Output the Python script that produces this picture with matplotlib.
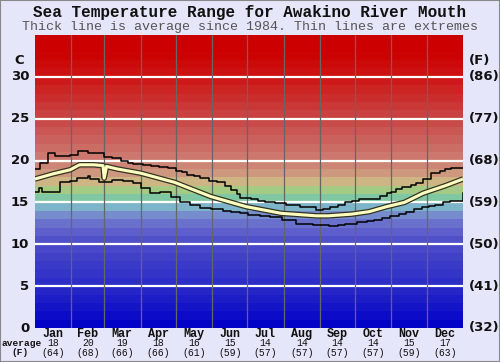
import numpy as np
import matplotlib.pyplot as plt
from matplotlib.colors import LinearSegmentedColormap

meses = ['Jan', 'Feb', 'Mar', 'Apr', 'May', 'Jun', 'Jul', 'Aug', 'Sep', 'Oct', 'Nov', 'Dec']
dias_mes = [31, 28, 31, 30, 31, 30, 31, 31, 30, 31, 30, 31]
media_c = [18, 20, 19, 18, 16, 15, 14, 14, 14, 14, 15, 17]
media_f = [64, 68, 66, 66, 61, 59, 57, 57, 57, 57, 59, 63]

# linha media (dia do ano, temperatura)
media_dia = [0, 15, 30, 38, 50, 58, 59, 61, 70, 90, 119, 150, 180, 210, 240, 250,
             270, 285, 300, 315, 331, 350, 365]
media_temp = [17.8, 18.4, 18.9, 19.5, 19.5, 19.4, 17.9, 19.3, 19.0, 18.5, 17.4, 15.7,
              14.5, 13.7, 13.4, 13.4, 13.6, 13.9, 14.5, 15.0, 16.1, 17.0, 17.8]

# maximas (degraus)
max_dia = [0, 4, 11, 17, 30, 37, 45, 51, 59, 66, 73, 79, 84, 92, 99, 106, 113,
           120, 125, 130, 136, 141, 148, 155, 162, 167, 172, 175, 184, 190, 196,
           205, 214, 226, 233, 240, 246, 252, 258, 264, 270, 276, 288, 294, 300,
           304, 308, 313, 317, 321, 325, 331, 338, 345, 350, 355, 365]
max_temp = [19.0, 19.7, 20.95, 20.55, 20.7, 21.15, 20.95, 20.9, 20.4, 20.3, 20.0,
            19.75, 19.6, 19.5, 19.35, 19.2, 19.1, 18.8, 18.6, 18.3, 18.1, 17.9,
            17.6, 17.4, 17.0, 16.5, 16.0, 15.5, 15.4, 15.2, 15.1, 14.9, 14.7,
            14.5, 14.4, 14.1, 14.2, 14.4, 14.7, 15.1, 15.2, 15.4, 15.4, 15.8,
            16.1, 16.3, 16.6, 16.8, 16.9, 17.1, 17.3, 17.8, 18.5, 18.8, 19.0,
            19.1, 19.1]

# minimas (degraus)
min_dia = [0, 3, 6, 21, 30, 36, 45, 47, 55, 66, 75, 84, 90, 98, 107, 116, 124,
           132, 141, 150, 160, 167, 175, 182, 192, 200, 211, 223, 237, 251, 258,
           264, 275, 283, 289, 296, 303, 310, 316, 323, 330, 336, 341, 348, 354,
           365]
min_temp = [16.2, 16.7, 16.3, 17.5, 17.6, 17.9, 18.2, 17.8, 17.5, 17.7, 17.6,
            17.3, 16.7, 16.1, 16.3, 15.6, 15.1, 14.7, 14.3, 14.2, 14.0, 13.9,
            13.7, 13.5, 13.4, 13.3, 12.9, 12.4, 12.3, 12.2, 12.3, 12.4, 12.7,
            12.8, 12.9, 13.1, 13.4, 13.6, 13.9, 14.2, 14.5, 14.6, 14.7, 15.0,
            15.2, 16.1]

# cores das faixas de fundo
faixa_temp = [0, 5, 10, 12, 14, 15, 16, 17, 18, 19, 20, 25, 30, 33, 35]
faixa_cor = ['#0000c8', '#2a2ac8', '#4b4bc8', '#6464cd', '#7d9bcd', '#7dc8c8',
             '#82c882', '#cdcd87', '#cda582', '#cd8c78', '#cd7d73', '#c84646',
             '#cd1414', '#cc0000', '#cc0000']

fundo = '#e6e6fa'
fig = plt.figure(figsize=(5, 3.62), dpi=100, facecolor=fundo)
ax = fig.add_axes([35 / 500, 1 - 328 / 362, 428 / 500, 293 / 362])

pos = [t / 35 for t in faixa_temp]
cmap = LinearSegmentedColormap.from_list('faixas', list(zip(pos, faixa_cor)))
for t in range(35):
    ax.axhspan(t, t + 1, color=cmap((t + 0.5) / 35), lw=0, zorder=0)

for t in range(5, 35, 5):
    ax.axhline(t, color='white', lw=1.6, zorder=1)
limites = np.cumsum([0] + dias_mes)
for d in limites[1:-1]:
    ax.axvline(d, color='#666666', lw=0.9, zorder=1)

ax.step(max_dia, max_temp, where='post', color='black', lw=1.1, zorder=3)
ax.step(min_dia, min_temp, where='post', color='black', lw=1.1, zorder=3)
ax.plot(media_dia, media_temp, color='#333322', lw=4.0, zorder=4, solid_capstyle='butt')
ax.plot(media_dia, media_temp, color='#ffffc0', lw=2.2, zorder=5, solid_capstyle='butt')

ax.set_xlim(0, 365)
ax.set_ylim(0, 35)
ax.set_xticks([])
ax.set_yticks([])
for s in ax.spines.values():
    s.set_visible(False)

fonte_num = dict(family='DejaVu Sans', fontweight='bold', fontsize=9.5, color='#111111')
for t in range(0, 35, 5):
    ax.text(-5, t, str(t), ha='right', va='center', **fonte_num)
    f = round(t * 9 / 5 + 32)
    ax.text(370, t, '(%d)' % f, ha='left', va='center', **fonte_num)
ax.text(-9, 32, 'C', ha='right', va='center', **fonte_num)
ax.text(370, 32, '(F)', ha='left', va='center', **fonte_num)

centros = limites[:-1] + np.array(dias_mes) / 2
mono = 'Liberation Mono'
for i, m in enumerate(meses):
    x = (35 + centros[i] / 365 * 428) / 500
    fig.text(x, 1 - 334 / 362, m, ha='center', va='center', family=mono,
             fontweight='bold', fontsize=8.5, color='#111111')
    fig.text(x, 1 - 343.5 / 362, str(media_c[i]), ha='center', va='center',
             family=mono, fontsize=7, color='#111111')
    fig.text(x, 1 - 352.5 / 362, '(%d)' % media_f[i], ha='center', va='center',
             family=mono, fontsize=7, color='#111111')
fig.text(1 / 500, 1 - 343.5 / 362, 'average', ha='left', va='center', family=mono,
         fontweight='bold', fontsize=6.8, color='#111111')
fig.text(20 / 500, 1 - 352.5 / 362, '(F)', ha='center', va='center', family=mono,
         fontweight='bold', fontsize=6.8, color='#111111')

fig.text(0.5, 1 - 12 / 362, 'Sea Temperature Range for Awakino River Mouth',
         ha='center', va='center', family=mono, fontweight='bold', fontsize=11.5,
         color='#111111')
fig.text(0.5, 1 - 27 / 362, 'Thick line is average since 1984. Thin lines are extremes',
         ha='center', va='center', family=mono, fontsize=9.6, color='#555555')

fig.patches.append(plt.Rectangle((0, 0), 1, 1, transform=fig.transFigure,
                                 fill=False, edgecolor='#888888', lw=1.5))

fig.savefig('out.png', dpi=100, facecolor=fundo)
